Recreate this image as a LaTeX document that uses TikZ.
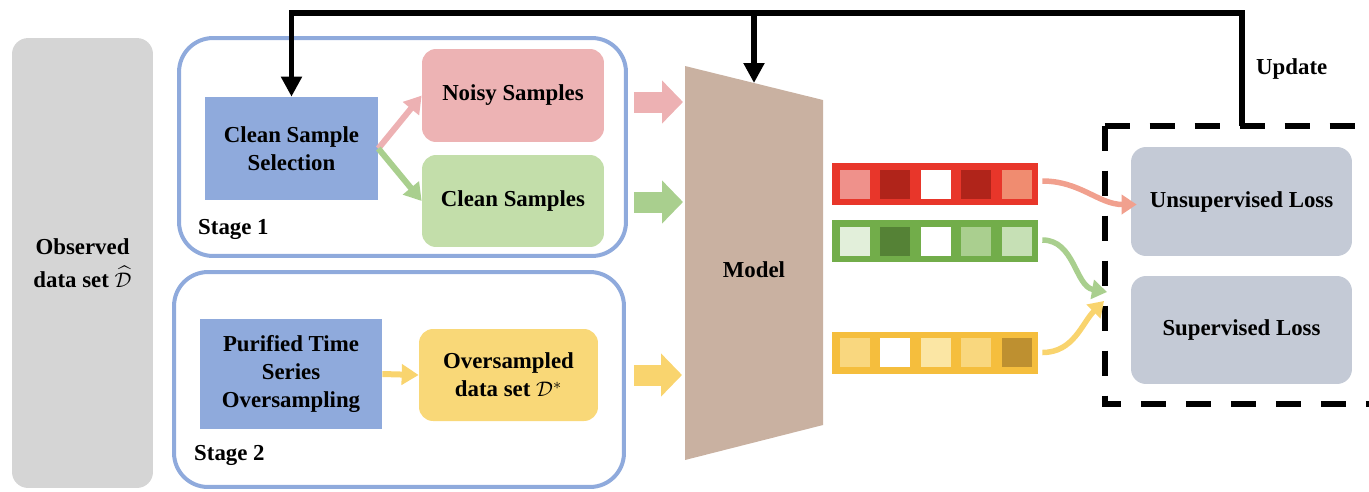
\documentclass[tikz,border=0pt]{standalone}
\usepackage{amsmath,amssymb,fontspec}
\setmainfont{Liberation Serif}
\usetikzlibrary{arrows.meta,positioning,calc}
\definecolor{stageline}{HTML}{8FAADC}
\definecolor{selfill}{HTML}{8FAADC}
\definecolor{obsfill}{HTML}{D5D5D5}
\definecolor{noisyfill}{HTML}{EDB3B4}
\definecolor{cleanfill}{HTML}{C3DEAA}
\definecolor{overfill}{HTML}{F9D878}
\definecolor{lossfill}{HTML}{C4CAD6}
\definecolor{modelfill}{HTML}{C9B1A1}
\definecolor{pinkarr}{HTML}{EDB1B3}
\definecolor{greenarr}{HTML}{A9CF8E}
\definecolor{yellowarr}{HTML}{F9D46E}
\definecolor{redcurve}{HTML}{F1A08E}
\definecolor{redbar}{HTML}{E8362A}
\definecolor{redA}{HTML}{EF918B}
\definecolor{redB}{HTML}{B0241A}
\definecolor{redC}{HTML}{F08C70}
\definecolor{greenbar}{HTML}{72AD4A}
\definecolor{greenA}{HTML}{E2EFDA}
\definecolor{greenB}{HTML}{558236}
\definecolor{greenC}{HTML}{AACF8F}
\definecolor{greenD}{HTML}{C6E0B5}
\definecolor{yellowbar}{HTML}{F5BE3D}
\definecolor{yellowA}{HTML}{F9D77F}
\definecolor{yellowB}{HTML}{FBE6A4}
\definecolor{yellowC}{HTML}{F9D77E}
\definecolor{yellowD}{HTML}{BE9030}

\begin{document}
\begin{tikzpicture}[x=0.02cm, y=-0.02cm, every node/.style={font=\fontsize{13}{16}\selectfont\bfseries},
      box/.style={inner sep=0pt, align=center},
      selbox/.style={box, fill=selfill},
      softbox/.style={box, rounded corners=0.28cm},
      stagebox/.style={draw=stageline, line width=0.08cm, rounded corners=0.68cm, inner sep=0pt},
      bar/.style={inner sep=0pt, minimum width=4.12cm, minimum height=0.84cm},
      thinarr/.style={-{Triangle[length=0.34cm,width=0.4cm]}, line width=0.12cm},
      blockarr/.style={-{Triangle[length=0.42cm,width=0.84cm]}, line width=0.42cm},
      curvarr/.style={-{Triangle[length=0.3cm,width=0.38cm]}, line width=0.11cm},
      fb/.style={-{Triangle[length=0.4cm,width=0.4cm]}, line width=3pt, line join=miter},
      frame/.style={line width=0.12cm, dash pattern=on 0.5cm off 0.4cm}]
    \useasboundingbox (0,0) rectangle (1369,491);
    \clip (0,0) rectangle (1369,491);
    % input and the two stages
    \node[box, fill=obsfill, rounded corners=0.32cm, minimum width=2.82cm, minimum height=9cm] (obs) at (82.5,263) {Observed\\[0.1cm]data set $\widehat{\mathcal{D}}$};
    \node[stagebox, minimum width=8.94cm, minimum height=4.36cm] (stageA) at (402.5,147) {};
    \node[stagebox, minimum width=9cm, minimum height=4.3cm] (stageB) at (399,379.5) {};
    \node[anchor=west] (stageAlbl) at (192,229) {Stage 1};
    \node[anchor=west] (stageBlbl) at (188,455) {Stage 2};
    \node[selbox, minimum width=3.46cm, minimum height=2.06cm] (select) at (291.5,148.5) {Clean Sample\\Selection};
    \node[softbox, fill=noisyfill, minimum width=3.64cm, minimum height=1.86cm] (noisy) at (513,95.5) {Noisy Samples};
    \node[softbox, fill=cleanfill, minimum width=3.64cm, minimum height=1.84cm] (clean) at (513,201) {Clean Samples};
    \node[selbox, minimum width=3.64cm, minimum height=2.2cm] (purify) at (291,374) {Purified Time\\Series\\Oversampling};
    \node[softbox, fill=overfill, minimum width=3.58cm, minimum height=1.84cm] (over) at (508.5,375) {Oversampled\\data set $\mathcal{D}^{*}$};
    \draw[thinarr, pinkarr] (select.east) -- (noisy.west);
    \draw[thinarr, greenarr] (select.east) -- (clean.west);
    \draw[thinarr, yellowarr] (purify.east) -- (over.west);
    % model
    \coordinate (mtl) at (685,66); \coordinate (mtr) at (823,100);
    \coordinate (mbr) at (823,425); \coordinate (mbl) at (685,460);
    \fill[modelfill] (mtl) -- (mtr) -- (mbr) -- (mbl) -- cycle;
    \node (model) at (754,270) {Model};
    \draw[blockarr, pinkarr] ($(stageA.east |- noisy.east)+(6,6.5)$) -- ($(mtl |- noisy.east)+(-2,6.5)$);
    \draw[blockarr, greenarr] ($(stageA.east |- clean.east)+(6,1)$) -- ($(mtl |- clean.east)+(-2,1)$);
    \draw[blockarr, yellowarr] ($(stageB.east |- over.east)+(8,0)$) -- ($(mtl |- over.east)+(-3,0)$);
    % outputs
    \node[bar, fill=redbar] (outA) at (935,184) {};
    \node[bar, fill=greenbar] (outB) at (935,241) {};
    \node[bar, fill=yellowbar] (outC) at (935,352.5) {};
    \foreach \c [count=\i from 0] in {redA,redB,white,redB,redC}
      \fill[\c] ($(outA.west)+(8+40.6*\i,-14.5)$) rectangle ++(30,29);
    \foreach \c [count=\i from 0] in {greenA,greenB,white,greenC,greenD}
      \fill[\c] ($(outB.west)+(8+40.6*\i,-14.5)$) rectangle ++(30,29);
    \foreach \c [count=\i from 0] in {yellowA,white,yellowB,yellowC,yellowD}
      \fill[\c] ($(outC.west)+(8+40.6*\i,-14.5)$) rectangle ++(30,29);
    % losses
    \node[softbox, fill=lossfill, rounded corners=0.3cm, minimum width=4.42cm, minimum height=2.18cm] (unsup) at (1241.5,201.5) {Unsupervised Loss};
    \node[softbox, fill=lossfill, rounded corners=0.3cm, minimum width=4.42cm, minimum height=2.16cm] (sup) at (1241.5,330) {Supervised Loss};
    \node[inner sep=0pt, minimum width=5.9cm, minimum height=5.56cm] (lossarea) at (1252.5,265) {};
    \draw[frame] (lossarea.north west) -- (lossarea.north east);
    \draw[frame] (lossarea.north west) -- (lossarea.south west) -- (lossarea.south east);
    \coordinate (gtip) at (1107,292); \coordinate (ytip) at (1104,301);
    \draw[curvarr, redcurve] ($(outA.east)+(4,-3)$) to[out=0, in=180] ($(unsup.west)+(6,3)$);
    \draw[curvarr, greenarr] ($(outB.east)+(4,-1)$) to[out=0, in=170] (gtip);
    \draw[curvarr, yellowarr] ($(outC.east)+(4,0)$) to[out=0, in=225] (ytip);
    % update loop
    \node[anchor=west] (upd) at (1250,69) {Update};
    \coordinate (fbtop) at (1242,13);
    \coordinate (mtop) at (754,83);
    \draw[fb] (fbtop |- lossarea.north) -- (fbtop) -| (select.north);
    \draw[fb] (mtop |- fbtop) -- (mtop);
  \end{tikzpicture}
\end{document}
